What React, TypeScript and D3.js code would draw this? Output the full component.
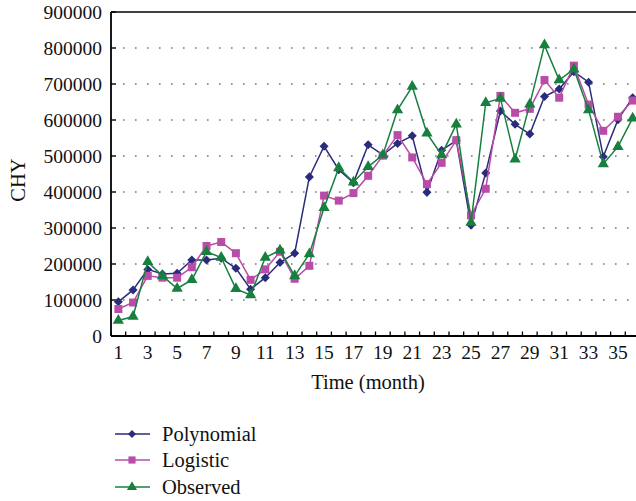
import { useEffect } from 'react'
import * as d3 from 'd3'

const months = d3.range(1, 37)
const tickLabels = months.filter((m) => m % 2 === 1)
const yTicks = [0, 100000, 200000, 300000, 400000, 500000, 600000, 700000, 800000, 900000]

const polynomial = [
  95000, 128000, 185000, 172000, 174000, 211000, 211000, 216000, 188000, 130000,
  162000, 204000, 230000, 442000, 527000, 462000, 426000, 531000, 503000, 535000,
  556000, 399000, 516000, 543000, 308000, 453000, 625000, 588000, 561000, 665000,
  686000, 734000, 705000, 498000, 601000, 662000,
]
const logistic = [
  75000, 93000, 167000, 162000, 162000, 191000, 250000, 261000, 230000, 156000,
  185000, 234000, 159000, 195000, 390000, 376000, 397000, 445000, 501000, 558000,
  496000, 422000, 481000, 544000, 335000, 409000, 667000, 620000, 631000, 711000,
  662000, 751000, 643000, 570000, 609000, 654000,
]
const observed = [
  43000, 54000, 206000, 167000, 132000, 156000, 234000, 218000, 131000, 114000,
  218000, 238000, 167000, 228000, 356000, 467000, 427000, 470000, 503000, 628000,
  693000, 563000, 503000, 588000, 315000, 648000, 660000, 491000, 644000, 808000,
  711000, 741000, 628000, 478000, 526000, 605000,
]

const series = [
  { name: 'Polynomial', values: polynomial, color: '#2b2b7c', shape: d3.symbolDiamond2, size: 52 },
  { name: 'Logistic', values: logistic, color: '#b84ca8', shape: d3.symbolSquare, size: 64 },
  { name: 'Observed', values: observed, color: '#17803f', shape: d3.symbolTriangle, size: 55 },
]

const W = 636
const H = 501
const margin = { top: 12, left: 111, right: 640, bottom: 336 }
const font = "'Liberation Serif', 'Times New Roman', Tinos, 'DejaVu Serif', serif"

export default function App() {
  useEffect(() => {
    document.body.style.margin = '0'
  }, [])

  const x = d3.scaleBand<number>().domain(months).range([margin.left, margin.right]).padding(0)
  const y = d3.scaleLinear().domain([0, 900000]).range([margin.bottom, margin.top])
  const cx = (m: number) => (x(m) ?? 0) + x.bandwidth() / 2

  const line = d3
    .line<number>()
    .x((_, i) => cx(months[i]))
    .y((d) => y(d))

  const legendRows = [434, 460, 487]

  return (
    <svg width={W} height={H} style={{ display: 'block', fontFamily: font }}>
      {/* grid */}
      {yTicks.slice(1, -1).map((t) => (
        <line
          key={t}
          x1={margin.left + 12}
          x2={margin.right}
          y1={y(t)}
          y2={y(t)}
          stroke="#777"
          strokeWidth={1.6}
          strokeDasharray="1.6,10.4"
        />
      ))}

      {/* frame */}
      <line x1={margin.left} x2={margin.right} y1={margin.top} y2={margin.top} stroke="#000" strokeWidth={1.5} />
      <line x1={margin.left} x2={margin.left} y1={margin.top} y2={margin.bottom} stroke="#000" strokeWidth={1.8} />
      <line x1={margin.left} x2={margin.right} y1={margin.bottom} y2={margin.bottom} stroke="#000" strokeWidth={1.8} />

      {/* y ticks */}
      {yTicks.map((t) => (
        <g key={t}>
          <line x1={margin.left} x2={margin.left + 5} y1={y(t)} y2={y(t)} stroke="#000" strokeWidth={1.4} />
          <text x={102} y={y(t) + 6.5} textAnchor="end" fontSize={19.5} fill="#111">
            {t}
          </text>
        </g>
      ))}

      {/* x ticks at band boundaries */}
      {months.map((m) => (
        <line
          key={m}
          x1={x(m)}
          x2={x(m)}
          y1={margin.bottom}
          y2={margin.bottom - 4.5}
          stroke="#000"
          strokeWidth={1.3}
        />
      ))}
      {tickLabels.map((m) => (
        <text key={m} x={cx(m)} y={359} textAnchor="middle" fontSize={19.5} fill="#111">
          {m}
        </text>
      ))}

      <text x={368} y={389} textAnchor="middle" fontSize={20.5} fill="#111">
        Time (month)
      </text>
      <text transform="translate(25,180) rotate(-90)" textAnchor="middle" fontSize={20.5} fill="#111">
        CHY
      </text>

      {/* series */}
      {series.map((s) => (
        <g key={s.name}>
          <path d={line(s.values) ?? ''} fill="none" stroke={s.color} strokeWidth={1.5} />
          {s.values.map((v, i) => (
            <path
              key={i}
              d={d3.symbol(s.shape, s.size)() ?? ''}
              transform={`translate(${cx(months[i])},${y(v)})`}
              fill={s.color}
            />
          ))}
        </g>
      ))}

      {/* legend */}
      {series.map((s, i) => (
        <g key={s.name} transform={`translate(0,${legendRows[i]})`}>
          <line x1={115} x2={150} y1={0} y2={0} stroke={s.color} strokeWidth={1.5} />
          <path d={d3.symbol(s.shape, s.size * 0.8)() ?? ''} transform="translate(132,0)" fill={s.color} />
          <text x={162} y={7} fontSize={20.5} fill="#111">
            {s.name}
          </text>
        </g>
      ))}
    </svg>
  )
}
